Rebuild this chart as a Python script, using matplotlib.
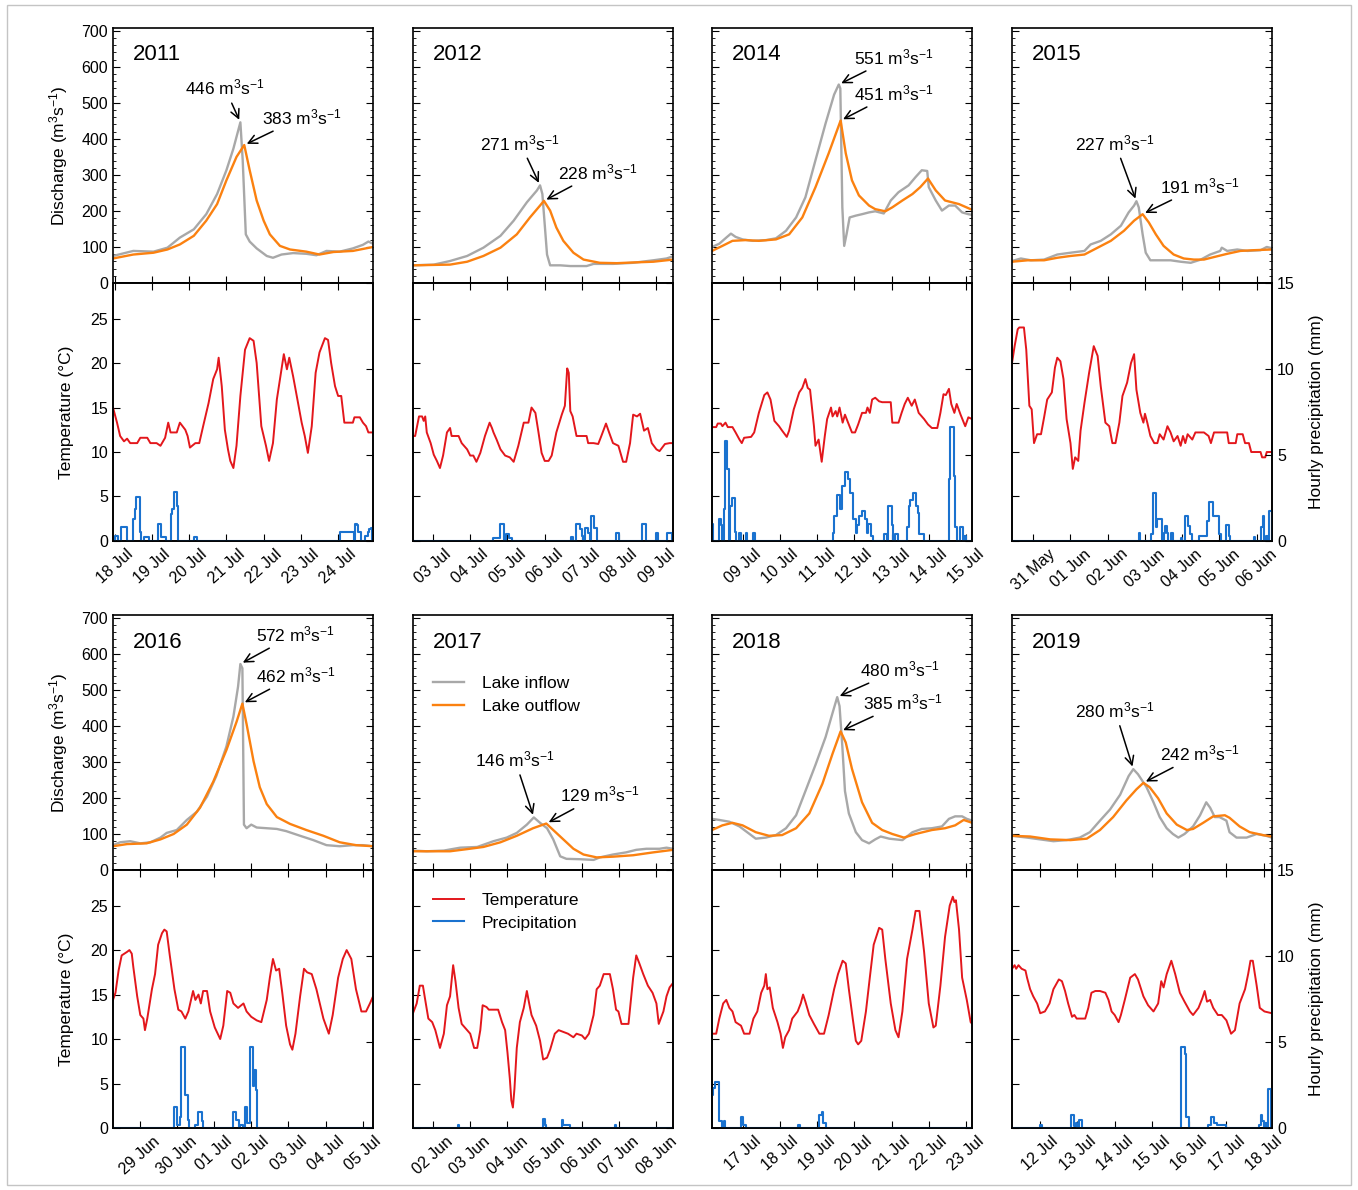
import numpy as np
import matplotlib.pyplot as plt
from matplotlib.patches import Rectangle
from matplotlib.ticker import MultipleLocator

plt.rcParams['font.family'] = ['Liberation Sans', 'DejaVu Sans']
plt.rcParams['mathtext.default'] = 'regular'

# all times are hours after midnight of the first labelled day of each panel
# (hour, discharge m3/s) ; (hour, deg C) ; (hour, mm)

# ---- 2011 ----
in11 = [(-1.1, 75), (12, 89), (25, 87), (34, 98), (42, 126), (51, 149), (59, 191), (66, 247), (72, 313),
        (76.5, 373), (81, 446), (82.5, 341), (84.5, 135), (87, 115), (91.5, 96), (98, 75), (102, 70),
        (107.5, 79), (115, 83), (123.5, 81), (130, 77), (136.5, 89), (145, 87), (153.5, 96), (160, 106),
        (163.5, 115), (166.5, 109)]
out11 = [(-1.1, 68), (12, 79), (25, 84), (34, 93), (42, 107), (51, 131), (59, 173), (66, 219), (72, 285),
         (78.5, 350), (83.5, 383), (87, 313), (91.5, 229), (96, 173), (100, 135), (106.5, 103), (113, 93),
         (123.5, 87), (132, 79), (141, 86), (153.5, 89), (166.5, 100)]
tmp11 = [(-1.1, 15.0), (1.5, 13.3), (3.5, 11.8), (6, 11.2), (8, 11.5), (10, 11.0), (14.5, 11.0), (16.5, 11.6),
         (21, 11.6), (23, 11.0), (27, 11.0), (29.5, 10.7), (32.5, 11.6), (34.5, 13.3), (36, 12.2), (40, 12.2),
         (42, 13.3), (45.5, 12.5), (47, 11.8), (48.5, 10.5), (52, 11.0), (54.5, 11.0), (57, 12.9), (60.5, 15.5),
         (63.5, 18.2), (66, 19.3), (67, 20.6), (69, 17.4), (71, 12.5), (73, 10.3), (74.5, 9.0), (76.5, 8.2),
         (78.5, 10.7), (81, 16.3), (84, 21.5), (87, 22.8), (89.5, 22.5), (91.5, 20.0), (94.5, 12.9), (97.5, 10.7),
         (99.5, 9.0), (102, 11.0), (104.5, 15.9), (107.5, 19.3), (109, 21.0), (111, 19.3), (112.5, 20.6),
         (115, 18.5), (118.5, 15.2), (120.5, 13.3), (122.5, 11.8), (124.5, 9.9), (127, 12.9), (129.5, 18.9),
         (132, 21.2), (135.5, 22.8), (137.5, 22.6), (139.5, 20.0), (142, 17.4), (144, 16.3), (146, 16.3),
         (148, 13.3), (153.5, 13.3), (154.5, 13.9), (158, 13.9), (160, 13.3), (162, 12.9), (163.5, 12.2),
         (166.5, 12.2)]
rain11 = [(0, 0.3), (1, 0.3), (4, 0.8), (5, 0.8), (6, 0.8), (7, 0.8), (12, 1.25), (13, 1.85), (14, 2.55),
          (15, 2.55), (16, 0.5), (19, 0.25), (20, 0.25), (21, 0.25), (28, 1.0), (29, 1.0), (30, 0.25),
          (31, 0.25), (32, 0.25), (36, 1.55), (37, 1.85), (38, 2.85), (39, 2.85), (40, 2.05), (51, 0.25),
          (52, 0.25), (145, 0.5), (146, 0.5), (147, 0.5), (148, 0.5), (149, 0.5), (150, 0.5), (151, 0.5),
          (152, 0.5), (153, 0.5), (155, 1.0), (156, 0.9), (157, 0.5), (158, 0.5), (161, 0.3), (162, 0.3),
          (163, 0.5), (164, 0.7), (165, 0.75)]
days11 = ['18 Jul', '19 Jul', '20 Jul', '21 Jul', '22 Jul', '23 Jul', '24 Jul']

# ---- 2012 ----
in12 = [(-13, 49), (0.5, 51), (11, 61), (22, 75), (32.5, 98), (43.5, 131), (52, 173), (60.5, 224), (67, 257),
        (69, 271), (70.5, 247), (73.5, 79), (75.5, 49), (82, 49), (88.5, 47), (99, 47), (103.5, 53), (116, 53),
        (129, 56), (142, 63), (150.5, 68), (154.7, 74)]
out12 = [(-13, 49), (11, 51), (22, 59), (32.5, 75), (43.5, 98), (54, 135), (62.5, 182), (69, 215), (71.5, 228),
         (75.5, 201), (79.5, 154), (84, 117), (90.5, 84), (97, 65), (107.5, 56), (118.5, 55), (129, 57),
         (142, 59), (154.7, 65)]
tmp12 = [(-13, 11.8), (-11.5, 11.8), (-9, 14.0), (-7, 14.0), (-6, 13.5), (-5, 14.0), (-4, 12.2), (-1.5, 11.0),
         (0.5, 9.7), (2.5, 9.0), (4.5, 8.2), (6.5, 9.6), (9, 12.2), (11, 12.7), (12, 11.8), (16.5, 11.8),
         (18.5, 11.0), (22, 10.3), (24, 9.6), (26, 9.6), (28, 8.9), (30.5, 9.9), (33.5, 11.8), (36.5, 13.3),
         (38, 12.7), (39, 12.2), (41, 11.4), (43.5, 10.3), (46.5, 9.6), (49.5, 9.4), (52, 8.9), (55, 10.7),
         (58.5, 13.3), (61.5, 13.3), (63.5, 15.0), (66, 14.4), (68, 12.2), (70, 9.9), (72, 9.0), (74.5, 9.0),
         (76.5, 9.6), (79.5, 12.2), (83, 14.2), (85, 15.2), (86.5, 19.4), (87.5, 18.9), (88.5, 14.6), (90, 14.0),
         (92.5, 11.8), (99, 11.8), (100, 11.0), (103.5, 11.0), (106.5, 10.9), (108.5, 11.8), (111.5, 13.2),
         (113.5, 12.2), (116, 11.0), (119.5, 10.7), (122.5, 8.9), (124.5, 8.9), (127, 11.0), (129, 14.2),
         (131.5, 14.0), (133.5, 14.3), (136, 12.4), (138.5, 12.7), (141, 11.0), (144, 10.3), (146, 10.1),
         (149.5, 10.9), (152.5, 11.0), (154.7, 11.0)]
rain12 = [(39, 0.2), (40, 0.2), (41, 0.2), (42, 0.2), (43, 1.0), (44, 1.0), (45, 1.0), (47, 0.4), (48, 0.4),
          (49, 0.2), (50, 0.2), (89, 0.25), (92, 1.0), (93, 1.0), (94, 1.0), (95, 0.7), (96, 0.3), (98, 0.75),
          (99, 0.75), (100, 0.45), (102, 1.45), (103, 1.45), (104, 0.75), (105, 0.75), (118, 0.45), (119, 0.45),
          (135, 1.0), (136, 1.0), (144, 0.45), (151, 0.45), (152, 0.45), (153, 0.45)]
days12 = ['03 Jul', '04 Jul', '05 Jul', '06 Jul', '07 Jul', '08 Jul', '09 Jul']

# ---- 2014 ----
in14 = [(-19.7, 100), (-15, 109), (-10.5, 126), (-7.5, 137), (-4.5, 128), (0, 121), (6.5, 117), (15, 119),
        (21.5, 124), (28, 145), (34.5, 182), (40.5, 238), (47, 341), (53.5, 443), (59, 523), (62, 551),
        (63, 540), (64.3, 210), (65.5, 103), (67, 135), (69, 182), (73, 187), (77, 191), (81.5, 196),
        (85.5, 199), (91, 193), (95.5, 229), (100.5, 252), (107, 271), (111.5, 294), (115.5, 313), (119, 311),
        (120, 266), (124.5, 229), (128.5, 201), (133, 215), (137, 215), (141.5, 196), (145.5, 191), (148, 189)]
out14 = [(-19.7, 89), (-13, 103), (-6.5, 117), (2, 119), (10.5, 117), (21.5, 121), (30, 135), (38.5, 182),
         (47, 266), (55.5, 360), (61, 425), (63.2, 451), (66.5, 360), (70.5, 285), (75, 243), (81.5, 215),
         (85.5, 205), (92, 199), (96.5, 210), (103, 229), (109.5, 247), (114.5, 266), (119.5, 290), (124.5, 257),
         (130.5, 229), (139.5, 219), (148, 203)]
tmp14 = [(-19.7, 12.8), (-17, 12.8), (-16, 13.2), (-14, 13.2), (-13, 12.9), (-11, 13.3), (-9.5, 12.8),
         (-6.5, 12.8), (-4.5, 12.2), (-2, 11.4), (-0.5, 11.0), (1, 11.6), (5.5, 11.7), (7.5, 12.2), (10.5, 14.4),
         (14, 16.4), (16, 16.7), (18, 15.9), (20.5, 13.5), (23.5, 12.9), (25.5, 12.4), (28.5, 11.7), (30, 12.4),
         (33, 14.8), (36.5, 16.7), (38.5, 17.2), (40.5, 18.2), (42, 17.2), (43.5, 17.0), (46, 12.9), (47, 10.7),
         (49, 11.4), (51, 8.9), (53, 11.8), (54.5, 13.7), (57, 15.0), (58, 14.0), (60, 14.6), (61, 14.0),
         (62.5, 15.0), (64.5, 13.3), (66, 14.2), (68, 13.3), (70.5, 12.2), (72.5, 12.2), (74.5, 13.1), (77, 14.4),
         (79.5, 14.4), (80.5, 15.0), (82, 14.4), (83.5, 15.9), (85.5, 16.1), (88, 15.7), (90, 15.6), (95.5, 15.6),
         (96.5, 13.3), (100.5, 13.3), (102.5, 14.4), (104.5, 15.4), (106.5, 16.1), (109, 15.2), (111, 15.9),
         (113.5, 14.4), (117, 13.7), (119.5, 13.1), (122, 12.7), (125.5, 12.7), (127.5, 14.4), (129.5, 16.5),
         (131, 16.4), (133, 17.1), (134.5, 15.4), (136.5, 14.4), (138, 15.4), (140.5, 14.2), (143.5, 12.9),
         (145.5, 13.9), (148, 13.7)]
rain14 = [(-20, 1.0), (-15, 1.25), (-14, 0.9), (-12, 1.85), (-11, 5.8), (-10, 4.2), (-8, 2.05), (-7, 2.5),
          (-6, 2.5), (-5, 0.5), (-2, 0.45), (2, 0.45), (7, 0.45), (58, 0.45), (59, 1.45), (60, 1.45), (61, 2.7),
          (62, 2.7), (63, 1.85), (64, 3.2), (65, 3.2), (66, 4.0), (67, 4.0), (68, 3.6), (69, 2.8), (70, 2.8),
          (71, 1.25), (72, 1.25), (73, 0.45), (74, 0.9), (75, 1.45), (76, 1.45), (77, 1.75), (78, 1.75),
          (79, 1.25), (80, 0.45), (81, 1.0), (82, 1.0), (83, 0.3), (91, 0.4), (92, 0.4), (94, 2.05), (95, 2.05),
          (96, 0.9), (98, 0.4), (99, 0.4), (106, 0.8), (107, 2.05), (108, 2.4), (109, 2.4), (110, 2.8),
          (111, 2.8), (112, 2.05), (113, 1.65), (114, 0.4), (115, 0.4), (116, 0.4), (133, 3.6), (134, 6.6),
          (135, 6.6), (136, 3.8), (137, 0.8), (140, 0.8), (141, 0.8), (143, 0.3)]
days14 = ['09 Jul', '10 Jul', '11 Jul', '12 Jul', '13 Jul', '14 Jul', '15 Jul']

# ---- 2015 ----
in15 = [(-13.7, 61), (-8, 68), (-1.5, 63), (7, 65), (15.5, 79), (24, 84), (33, 89), (37, 107), (43.5, 117),
        (50, 135), (56.5, 159), (61.5, 196), (65, 215), (66.5, 227), (68, 210), (70.5, 135), (72.5, 84),
        (75.5, 63), (88.5, 63), (95, 59), (101.5, 56), (108, 65), (114, 79), (120.5, 89), (121.5, 98),
        (125, 89), (131.5, 93), (138, 89), (146.5, 91), (150.5, 100), (154, 96)]
out15 = [(-13.7, 59), (-3.5, 63), (7, 63), (15.5, 70), (24, 75), (33, 79), (41.5, 98), (50, 117), (58.5, 145),
         (65, 173), (70.5, 191), (74.5, 168), (79, 135), (84, 103), (90.5, 79), (97, 68), (103.5, 65),
         (110, 65), (116.5, 72), (125, 81), (133.5, 89), (142, 91), (154, 93)]
tmp15 = [(-13.7, 20.0), (-12, 21.9), (-10, 23.8), (-9, 24.0), (-6, 24.0), (-4.5, 21.5), (-2.5, 15.2),
         (-1, 14.8), (0.5, 11.0), (2.5, 12.0), (5, 12.0), (7, 13.9), (9, 15.9), (12, 16.7), (14, 19.5),
         (15.5, 20.6), (17.5, 20.2), (19.5, 18.2), (21.5, 13.7), (24, 11.0), (25.5, 8.1), (27, 9.4), (29, 9.0),
         (30.5, 12.4), (33, 15.5), (36, 18.9), (39, 21.9), (41.5, 20.8), (43.5, 17.4), (46.5, 13.3), (49, 12.9),
         (51, 11.0), (53, 11.0), (55.5, 13.3), (57.5, 16.3), (60.5, 17.8), (63, 20.0), (65, 21.0), (66.5, 17.0),
         (69, 14.4), (71, 13.3), (72, 14.3), (73.5, 13.3), (75.5, 11.8), (78, 11.0), (80, 11.0), (81.5, 12.0),
         (84, 11.4), (86.5, 12.9), (88.5, 12.2), (90.5, 11.2), (93, 11.8), (95, 10.7), (96.5, 11.8), (98, 11.0),
         (99.5, 12.0), (102.5, 11.4), (104.5, 12.2), (110, 12.2), (113, 11.8), (114.5, 11.0), (116.5, 12.2),
         (125, 12.2), (126, 11.0), (130.5, 11.0), (131.5, 12.0), (135, 12.0), (136.5, 11.0), (139, 11.0),
         (140.5, 10.0), (146.5, 10.0), (147.5, 9.4), (149.5, 9.4), (150.5, 10.0), (154, 10.0)]
rain15 = [(68, 0.45), (76, 0.4), (77, 2.8), (78, 2.8), (79, 0.8), (80, 1.25), (81, 1.25), (82, 1.25), (84, 0.45),
          (85, 0.85), (86, 0.45), (89, 0.45), (95, 0.2), (98, 1.45), (99, 1.45), (100, 0.85), (101, 0.4),
          (107, 0.3), (108, 0.3), (109, 0.3), (110, 0.3), (111, 0.3), (112, 1.15), (113, 2.25), (114, 2.25),
          (115, 2.25), (116, 1.45), (117, 1.45), (118, 1.45), (119, 1.45), (120, 0.4), (124, 0.95), (125, 0.95),
          (126, 0.3), (142, 0.25), (147, 0.8), (148, 1.45), (150, 0.3), (152, 1.75), (153, 1.75)]
days15 = ['31 May', '01 Jun', '02 Jun', '03 Jun', '04 Jun', '05 Jun', '06 Jun']

# ---- 2016 ----
in16 = [(-17.1, 69), (-12.5, 77), (-6, 80), (0.5, 74), (7, 77), (13.5, 90), (17.5, 103), (24, 111), (30.5, 139),
        (37, 162), (43.5, 204), (49.5, 261), (56, 343), (60.5, 426), (63.5, 509), (65, 572), (66.3, 560),
        (67.3, 126), (69, 116), (72, 126), (75.5, 118), (82, 116), (88.5, 114), (94.5, 108), (103.5, 95),
        (112, 83), (120.5, 69), (129, 66), (137.5, 69), (144, 69), (150.5, 66)]
out16 = [(-17.1, 66), (-8, 72), (4.5, 74), (13.5, 85), (22, 100), (30.5, 126), (39, 173), (47.5, 245), (56, 333),
         (62.5, 411), (66.3, 462), (69, 405), (73.5, 302), (77.5, 230), (82, 183), (88.5, 147), (97, 128),
         (107.5, 111), (118.5, 95), (129, 77), (139.5, 69), (150.5, 66)]
tmp16 = [(-17.1, 14.4), (-15.5, 15.2), (-13.5, 17.7), (-11.5, 19.4), (-8, 19.8), (-6.5, 20.0), (-5, 19.6),
         (-4, 18.1), (-1.5, 14.8), (0.5, 12.7), (2.5, 12.3), (3.5, 11.0), (5, 12.3), (8, 15.6), (10, 17.3),
         (12, 20.6), (14.5, 21.9), (16, 22.3), (17.5, 22.1), (19.5, 19.4), (22.5, 15.6), (25, 13.3), (27, 13.1),
         (29.5, 12.3), (31.5, 13.1), (34.5, 15.4), (36, 14.4), (38, 15.0), (39.5, 14.0), (41, 15.4), (43.5, 15.4),
         (45.5, 13.1), (48.5, 11.3), (52, 10.0), (54, 11.5), (56.5, 15.4), (58.5, 15.2), (60.5, 14.0),
         (63.5, 13.5), (67, 14.0), (69, 13.1), (72, 12.5), (75.5, 12.1), (78.5, 11.9), (82, 14.4), (84, 16.9),
         (86, 19.0), (88, 17.7), (90, 17.9), (92, 15.2), (94.5, 11.5), (97, 9.4), (98.5, 8.8), (100.5, 10.6),
         (103.5, 14.8), (106, 17.9), (108, 17.5), (111, 17.3), (114, 15.6), (118.5, 12.3), (122, 10.6),
         (124.5, 12.7), (128, 16.9), (131, 19.0), (133.5, 20.0), (136.5, 19.0), (139.5, 15.6), (143, 13.1),
         (146, 13.1), (148.5, 14.0), (150.5, 14.8)]
rain16 = [(22, 1.2), (23, 1.2), (24, 0.2), (25, 0.2), (26, 0.65), (27, 4.7), (28, 4.7), (29, 1.9), (30, 1.9),
          (31, 0.45), (36, 0.2), (37, 0.2), (38, 0.95), (39, 0.95), (40, 0.4), (60, 0.95), (61, 0.95), (62, 0.45),
          (63, 0.45), (65, 0.2), (66, 0.2), (68, 1.2), (69, 0.3), (70, 0.3), (71, 4.7), (72, 4.7), (73, 2.45),
          (74, 3.4), (75, 2.2)]
days16 = ['29 Jun', '30 Jun', '01 Jul', '02 Jul', '03 Jul', '04 Jul', '05 Jul']

# ---- 2017 ----
in17 = [(-12.9, 54), (-4, 52), (7, 54), (17.5, 62), (28.5, 64), (39, 80), (47.5, 90), (54, 103), (60.5, 126),
        (65, 146), (69, 131), (73.5, 116), (77.5, 85), (82, 38), (86, 31), (94.5, 30), (103.5, 28), (107.5, 35),
        (116, 43), (124.5, 49), (131, 56), (137.5, 59), (146, 59), (150.5, 62), (154.7, 59)]
out17 = [(-12.9, 52), (11, 52), (22, 58), (32.5, 64), (43.5, 77), (54, 95), (64.5, 116), (73, 129), (77.5, 111),
         (84, 85), (90.5, 59), (97, 43), (105.5, 35), (116, 37), (129, 41), (142, 49), (154.7, 56)]
tmp17 = [(-12.9, 12.9), (-10.5, 14.0), (-8.5, 16.0), (-6.5, 16.0), (-5, 14.4), (-3, 12.3), (-0.5, 11.9),
         (1.5, 11.0), (4.5, 9.0), (7, 10.6), (9, 13.8), (11, 14.8), (13, 18.3), (14.5, 16.5), (16.5, 13.5),
         (18.5, 11.7), (22, 11.0), (24, 10.6), (26.5, 9.0), (28.5, 9.0), (30.5, 11.0), (32, 13.8), (34.5, 13.6),
         (36, 13.3), (42, 13.3), (44.5, 11.9), (46.5, 11.0), (48, 8.5), (49.5, 5.6), (50.5, 3.1), (51.5, 2.3),
         (52.5, 4.4), (54, 9.0), (56, 11.9), (58.5, 13.5), (60.5, 15.4), (62, 14.0), (63.5, 12.7), (66.5, 11.5),
         (69, 9.8), (71, 7.7), (73.5, 7.9), (75.5, 8.8), (78.5, 10.6), (81, 11.0), (84, 10.8), (87, 10.6),
         (90.5, 10.2), (92.5, 10.6), (96, 10.4), (98, 10.0), (100.5, 10.6), (103.5, 12.7), (105.5, 15.6),
         (107.5, 16.0), (110, 17.3), (114, 17.3), (116, 15.6), (118, 13.3), (119.5, 13.1), (121.5, 11.7),
         (126, 11.7), (129, 16.9), (131, 19.4), (133, 18.5), (135.5, 17.3), (138.5, 16.0), (141.5, 15.2),
         (144, 14.0), (145.5, 11.7), (148.5, 13.1), (150.5, 14.8), (152.5, 15.8), (154.7, 16.3)]
rain17 = [(16, 0.2), (71, 0.55), (72, 0.2), (83, 0.45), (84, 0.2), (85, 0.2), (86, 0.2), (87, 0.2), (117, 0.2)]
days17 = ['02 Jun', '03 Jun', '04 Jun', '05 Jun', '06 Jun', '07 Jun', '08 Jun']

# ---- 2018 ----
in18 = [(-19.7, 142), (-15, 139), (-8.5, 134), (-2, 121), (4.5, 100), (8.5, 87), (15, 90), (21.5, 97), (28, 116),
        (34.5, 152), (40.5, 219), (47, 292), (53.5, 369), (58, 436), (61, 480), (62.5, 455), (64.3, 343),
        (66, 219), (68.5, 157), (73, 105), (77, 83), (81.5, 74), (85.5, 85), (89, 93), (94.5, 87), (103, 83),
        (109.5, 105), (115.5, 114), (122, 116), (128.5, 121), (133, 142), (137, 149), (141.5, 149),
        (144.5, 142), (148, 137)]
out18 = [(-19.7, 111), (-13, 124), (-6.5, 131), (0, 124), (8.5, 105), (17, 95), (25.5, 97), (34.5, 116),
         (43, 157), (51.5, 240), (58, 323), (63.2, 385), (66.5, 354), (70.5, 281), (77, 188), (83.5, 131),
         (90, 111), (96.5, 100), (104, 90), (111.5, 100), (122, 111), (130.5, 116), (137, 124), (142.5, 139),
         (148, 131)]
tmp18 = [(-19.7, 10.6), (-17, 10.6), (-15, 12.3), (-12.5, 14.0), (-10.5, 14.4), (-8.5, 13.5), (-6.5, 13.1),
         (-4.5, 11.9), (-1, 11.5), (1, 10.6), (4.5, 10.6), (7, 12.3), (9.5, 13.1), (12, 15.2), (14, 16.0),
         (15, 17.3), (16, 15.6), (17.5, 15.8), (19.5, 13.5), (22.5, 11.9), (24.5, 10.6), (26, 9.0), (27.5, 10.2),
         (30, 11.0), (32, 12.3), (35.5, 13.1), (37.5, 14.0), (39, 15.0), (40.5, 14.2), (43, 12.7), (46, 11.7),
         (49.5, 10.6), (52.5, 10.6), (55.5, 12.7), (59, 15.6), (61.5, 17.3), (64.5, 18.8), (66.5, 18.5),
         (68.5, 15.6), (71, 12.3), (73, 9.8), (74.5, 9.4), (76.5, 9.8), (79.5, 13.1), (82, 16.9), (84.5, 20.6),
         (88, 22.5), (90, 22.3), (92, 19.0), (95.5, 14.0), (98.5, 11.0), (100.5, 10.2), (103, 13.1), (106, 19.0),
         (109.5, 22.3), (111.5, 24.4), (114, 24.4), (117, 19.8), (120, 14.0), (123, 11.3), (124.5, 11.5),
         (127.5, 16.0), (130.5, 21.5), (133.5, 25.0), (135.5, 26.0), (136.5, 25.4), (137.5, 25.6), (139.5, 22.3),
         (141.5, 16.9), (144.5, 14.4), (147, 11.9), (148, 11.7)]
rain18 = [(-20, 1.9), (-19, 2.35), (-18, 2.65), (-17, 2.65), (-16, 2.65), (-15, 0.4), (-14, 0.4), (-12, 0.4),
          (-1, 0.65), (0, 0.15), (1, 0.15), (36, 0.15), (49, 0.75), (50, 0.75), (51, 0.95), (52, 0.3), (53, 0.3)]
days18 = ['17 Jul', '18 Jul', '19 Jul', '20 Jul', '21 Jul', '22 Jul', '23 Jul']

# ---- 2019 ----
in19 = [(-18.2, 95), (-8.5, 90), (0, 85), (8.5, 80), (17, 83), (25.5, 90), (32, 105), (38.5, 137), (45, 168),
        (51.5, 209), (57, 261), (60, 280), (63, 266), (68.5, 230), (73, 188), (77, 147), (81.5, 116),
        (85.5, 100), (89, 90), (93, 100), (98.5, 121), (103, 152), (107, 188), (109.5, 173), (112.5, 147),
        (115.5, 147), (120, 137), (122, 105), (126.5, 90), (133, 90), (139.5, 100), (145.5, 95), (149.3, 90)]
out19 = [(-18.2, 95), (-6.5, 93), (6.5, 85), (19.5, 83), (30, 87), (38.5, 111), (47, 147), (55.5, 193),
         (62, 224), (66.5, 242), (70.5, 230), (76, 199), (81.5, 157), (88, 126), (94.5, 111), (98.5, 114),
         (105, 131), (111.5, 149), (119, 152), (122, 145), (128.5, 121), (135, 105), (143.5, 97), (149.3, 93)]
tmp19 = [(-18.2, 17.9), (-16.5, 18.3), (-15.5, 17.9), (-14, 18.3), (-12, 17.9), (-9.5, 17.7), (-8.5, 16.9),
         (-6.5, 15.6), (-4.5, 14.8), (-2, 14.0), (0, 12.9), (3, 13.1), (6, 14.0), (8.5, 15.6), (12, 16.7),
         (14, 16.5), (16, 15.4), (18, 14.0), (20.5, 12.5), (22, 12.7), (23.5, 12.3), (29, 12.3), (31, 13.5),
         (33, 15.2), (35.5, 15.4), (38.5, 15.4), (42, 15.2), (44, 14.4), (46, 13.1), (48, 12.7), (50.5, 11.9),
         (52, 12.7), (54.5, 14.4), (58, 16.9), (61, 17.3), (63, 16.7), (66.5, 14.8), (69.5, 13.8), (73, 13.1),
         (76, 14.0), (78, 16.5), (79.5, 15.8), (81.5, 17.3), (84.5, 18.8), (87, 17.3), (90, 15.2), (93, 14.2),
         (96.5, 13.1), (98.5, 12.7), (102, 13.5), (104.5, 14.6), (106, 15.4), (107.5, 14.2), (109.5, 14.4),
         (111.5, 13.5), (114.5, 12.7), (117, 12.7), (120, 12.1), (123, 10.6), (125.5, 11.0), (128.5, 14.0),
         (132, 15.6), (134, 17.3), (135.5, 18.8), (137, 18.8), (139.5, 16.0), (141.5, 13.5), (144.5, 13.1),
         (149.3, 12.9)]
rain19 = [(0, 0.2), (20, 0.75), (21, 0.75), (22, 0.1), (23, 0.3), (25, 0.45), (26, 0.45), (91, 4.7), (92, 4.7),
          (93, 4.3), (94, 0.65), (95, 0.65), (108, 0.2), (109, 0.2), (110, 0.65), (111, 0.65), (112, 0.3),
          (113, 0.3), (114, 0.2), (115, 0.2), (116, 0.2), (117, 0.2), (118, 0.2), (119, 0.2), (141, 0.2),
          (142, 0.75), (143, 0.4), (145, 0.3), (147, 2.25), (148, 2.25)]
days19 = ['12 Jul', '13 Jul', '14 Jul', '15 Jul', '16 Jul', '17 Jul', '18 Jul']

years = ['2011', '2012', '2014', '2015', '2016', '2017', '2018', '2019']
inflows = [in11, in12, in14, in15, in16, in17, in18, in19]
outflows = [out11, out12, out14, out15, out16, out17, out18, out19]
temps = [tmp11, tmp12, tmp14, tmp15, tmp16, tmp17, tmp18, tmp19]
rains = [rain11, rain12, rain14, rain15, rain16, rain17, rain18, rain19]
daylabels = [days11, days12, days14, days15, days16, days17, days18, days19]

# layout (hours before first tick shown, annotation text spots in axes fraction)
x_start = [-1.1, -12.9, -19.7, -13.7, -17.1, -12.9, -19.7, -18.2]
txt_in = [(0.43, 0.765), (0.412, 0.549), (0.70, 0.886), (0.396, 0.549),
          (0.70, 0.925), (0.392, 0.433), (0.723, 0.787), (0.396, 0.626)]
txt_out = [(0.727, 0.65), (0.712, 0.435), (0.70, 0.745), (0.723, 0.38),
           (0.704, 0.764), (0.719, 0.295), (0.735, 0.657), (0.723, 0.457)]

c_in = '#a8a8a8'
c_out = '#fb8110'
c_tmp = '#e3171c'
c_rain = '#1a72cf'

fig = plt.figure(figsize=(13.58, 11.90), dpi=100)
fig.patches.append(Rectangle((0.005, 0.004), 0.99, 0.992, transform=fig.transFigure,
                             fill=False, ec='#c4c4c4', lw=1))

lefts = [0.0832, 0.3041, 0.5243, 0.7452]
w = 0.1915
q_bot = [0.7622, 0.2689]
t_bot = [0.5454, 0.0521]
q_h = 0.2143
t_h = 0.2168


def unzip(pairs):
    a = np.array(pairs, dtype=float)
    return a[:, 0], a[:, 1]


def hourly(rain, lo):
    h = np.arange(np.floor(lo), lo + 169)
    p = np.zeros(len(h))
    for t, v in rain:
        p[int(t - h[0])] = v
    return h, p


for i in range(8):
    row, col = i // 4, i % 4
    lo = x_start[i]
    hi = lo + 167.6

    # discharge
    axq = fig.add_axes([lefts[col], q_bot[row], w, q_h])
    t, q = unzip(inflows[i])
    axq.plot(t, q, color=c_in, lw=1.7, label='Lake inflow')
    pk_in = (t[np.argmax(q)], q.max())
    t, q = unzip(outflows[i])
    axq.plot(t, q, color=c_out, lw=1.7, label='Lake outflow')
    pk_out = (t[np.argmax(q)], q.max())
    axq.set_xlim(lo, hi)
    axq.set_ylim(0, 708)
    axq.set_xticks(np.arange(0, 145, 24))
    axq.yaxis.set_major_locator(MultipleLocator(100))
    axq.yaxis.set_minor_locator(MultipleLocator(20))
    axq.tick_params(axis='x', direction='in', labelbottom=False, length=5)
    axq.tick_params(axis='y', which='both', direction='in', left=True, right=True,
                    labelleft=(col == 0), labelsize=11.5)
    axq.tick_params(axis='y', which='major', length=5)
    axq.tick_params(axis='y', which='minor', length=2.5)
    axq.text(0.078, 0.894, years[i], transform=axq.transAxes, fontsize=16, va='center')
    arrow = dict(arrowstyle='->,head_length=0.5,head_width=0.25', color='black', lw=1.1,
                 shrinkA=2, shrinkB=2)
    axq.annotate('%d m$^{3}$s$^{-1}$' % pk_in[1], xy=pk_in, xytext=txt_in[i],
                 textcoords='axes fraction', ha='center', va='center', fontsize=12.5, arrowprops=arrow)
    axq.annotate('%d m$^{3}$s$^{-1}$' % pk_out[1], xy=pk_out, xytext=txt_out[i],
                 textcoords='axes fraction', ha='center', va='center', fontsize=12.5, arrowprops=arrow)
    if col == 0:
        axq.set_ylabel('Discharge (m$^{3}$s$^{-1}$)', fontsize=12.5, labelpad=8)
    if years[i] == '2017':
        axq.legend(loc='upper left', bbox_to_anchor=(0.05, 0.79), frameon=False, fontsize=12.5,
                   handlelength=1.8, handletextpad=1.0, borderaxespad=0, labelspacing=0.45)

    # temperature + precipitation
    axt = fig.add_axes([lefts[col], t_bot[row], w, t_h])
    t, c = unzip(temps[i])
    lt, = axt.plot(t, c, color=c_tmp, lw=1.4, label='Temperature')
    axt.set_xlim(lo, hi)
    axt.set_ylim(0, 29)
    axt.set_yticks(np.arange(0, 26, 5))
    axt.set_xticks(np.arange(0, 145, 24))
    axt.set_xticklabels(daylabels[i], rotation=42, ha='center', fontsize=11.5)
    axt.tick_params(axis='x', direction='in', top=True, length=5, pad=4)
    axt.tick_params(axis='y', direction='in', labelleft=(col == 0), labelsize=11.5, length=5)
    if col == 0:
        axt.set_ylabel('Temperature (°C)', fontsize=12.5, labelpad=12)

    axp = axt.twinx()
    h, p = hourly(rains[i], lo)
    lp, = axp.step(h, p, where='post', color=c_rain, lw=1.5, label='Precipitation')
    axp.set_xlim(lo, hi)
    axp.set_ylim(0, 15)
    axp.set_yticks([0, 5, 10, 15])
    axp.tick_params(axis='y', direction='in', labelright=(col == 3), labelsize=11.5, length=5)
    if col == 3:
        axp.set_ylabel('Hourly precipitation (mm)', fontsize=12.5, labelpad=10)
    if years[i] == '2017':
        axp.legend([lt, lp], ['Temperature', 'Precipitation'], loc='upper left',
                   bbox_to_anchor=(0.05, 0.94), frameon=False, fontsize=12.5,
                   handlelength=1.8, handletextpad=1.0, borderaxespad=0, labelspacing=0.45)

    for ax in (axq, axt, axp):
        for s in ax.spines.values():
            s.set_linewidth(1.2)

plt.savefig('out.png', dpi=100)
